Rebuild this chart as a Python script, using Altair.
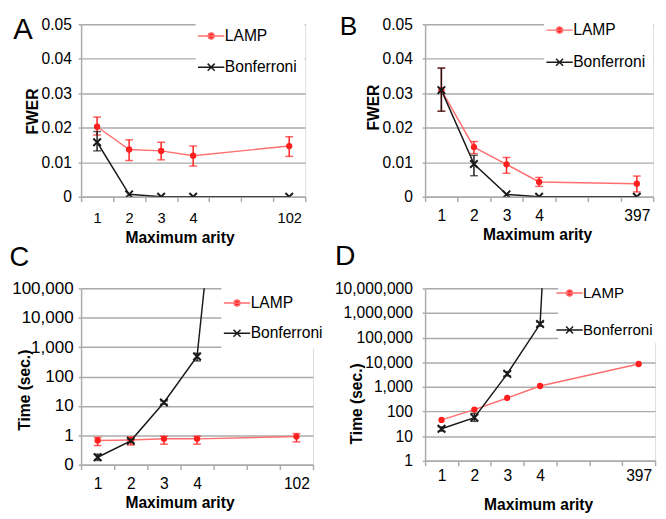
import altair as alt
import pandas as pd

FONT = "Liberation Sans"
RED_LINE = "#ff6f6f"
RED = "#ff1f1f"
BLACK = "#1a1a1a"
GRID = "#ababab"

SERIES = ["LAMP", "Bonferroni"]
GAPS = ["gap5", "gap6"]

# symbols (legend: line + marker; plot: marker)
LAMP_SYM = ("M-2.25,0L2.25,0M0.55,0L0.39,0.39L0,0.55L-0.39,0.39L-0.55,0"
            "L-0.39,-0.39L0,-0.55L0.39,-0.39Z")
BONF_SYM = "M-2.25,0L2.25,0M-0.6,-0.6L0.6,0.6M-0.6,0.6L0.6,-0.6"
X_SYM = "M-1,-1L1,1M-1,1L1,-1"

# ---------------- Panel A (FWER, arity up to 102) ----------------
a_arity = ["1", "2", "3", "4", "102"]
a_lamp = [0.0203, 0.0137, 0.0133, 0.0119, 0.0147]
a_lamp_lo = [0.0179, 0.0105, 0.0107, 0.0089, 0.0117]
a_lamp_hi = [0.0231, 0.0165, 0.0158, 0.0147, 0.0174]
a_bonf = [0.0158, 0.0007, 0.0, 0.0, 0.0]
a_bonf_lo = [0.0133, None, None, None, None]
a_bonf_hi = [0.0189, None, None, None, None]

# ---------------- Panel B (FWER, arity up to 397) ----------------
b_arity = ["1", "2", "3", "4", "397"]
b_lamp = [0.0309, 0.0144, 0.0094, 0.0043, 0.0038]
b_lamp_lo = [0.0248, 0.0125, 0.0068, 0.0030, 0.0014]
b_lamp_hi = [0.0373, 0.0160, 0.0114, 0.0056, 0.0060]
b_bonf = [0.0309, 0.0095, 0.0007, 0.0, 0.0]
b_bonf_lo = [0.0248, 0.0061, None, None, None]
b_bonf_hi = [0.0373, 0.0120, None, None, None]

# ---------------- Panel C (time, arity up to 102) ----------------
c_arity = ["1", "2", "3", "4", "102"]
c_lamp = [0.67, 0.70, 0.76, 0.76, 0.91]
c_lamp_lo = [0.45, 0.47, 0.50, 0.50, 0.60]
c_lamp_hi = [0.85, 0.88, 0.93, 0.93, 1.15]
c_bonf = [0.18, 0.65, 13.1, 480, 1e35]
c_bonf_lo = [0.14, 0.58, 11.5, 340, None]
c_bonf_hi = [0.23, 0.73, 14.8, 620, None]

# ---------------- Panel D (time, arity up to 397) ----------------
d_arity = ["1", "2", "3", "4", "397"]
d_lamp = [46, 120, 357, 1090, 8500]
d_lamp_lo = [None, None, None, None, None]
d_lamp_hi = [None, None, None, None, None]
d_bonf = [20, 57, 3400, 355000, 1e80]
d_bonf_lo = [16, 40, 2800, 290000, None]
d_bonf_hi = [24, 84, 4200, 420000, None]

fwer_ticks = [0, 0.01, 0.02, 0.03, 0.04, 0.05]
c_ticks = [0.1, 1, 10, 100, 1000, 10000, 100000]
d_ticks = [1, 10, 100, 1000, 10000, 100000, 1000000, 10000000]


def make_panel(letter, arity, lamp, lamp_lo, lamp_hi, bonf, bonf_lo, bonf_hi, p):
    domain = arity[:4] + GAPS + arity[4:]
    rows = []
    for s, vals, los, his in ((SERIES[0], lamp, lamp_lo, lamp_hi),
                              (SERIES[1], bonf, bonf_lo, bonf_hi)):
        for a, v, lo, hi in zip(arity, vals, los, his):
            rows.append({"arity": a, "slot": domain.index(a), "series": s,
                         "value": v, "lo": lo, "hi": hi})
    df = pd.DataFrame(rows)

    xaxis = alt.Axis(
        labelExpr="(datum.label == 'gap5' || datum.label == 'gap6') ? '' : datum.label",
        tickBand="extent", ticks=True, tickSize=5, tickColor=GRID, tickWidth=1.5,
        domainColor=GRID, domainWidth=1.5, grid=False, labelAngle=0,
        labelFontSize=p["xlab"], labelPadding=p["xlabpad"], labelBaseline="middle",
        labelColor="black", labelFont=FONT,
        title="Maximum arity", titleFontSize=16, titleFontWeight="bold",
        titleFont=FONT, titleColor="black", titleX=p["xtx"], titleY=p["xty"],
        titleAlign="center", titleBaseline="middle",
    )
    # top axis carrying only the panel letter
    letter_axis = alt.Axis(
        orient="top", domain=False, ticks=False, labels=False, grid=False,
        title=letter, titleFontSize=p["tfs"], titleFontWeight="normal", titleFont=FONT,
        titleColor="black", titleX=p["tdx"], titleY=p["tdy"], titleAngle=0,
        titleAlign="left", titleBaseline="alphabetic",
    )
    xscale = alt.Scale(type="band", domain=domain, paddingInner=0, paddingOuter=0)
    x = alt.X("arity:N", scale=xscale, axis=xaxis)
    xn = alt.X("arity:N", scale=xscale, axis=None)
    xt = alt.X("arity:N", scale=xscale, axis=letter_axis)

    yaxis = alt.Axis(
        values=p["ticks"], labelExpr=p["labexpr"], grid=True, gridColor=GRID,
        gridWidth=1.5, domainColor=GRID, domainWidth=1.5, tickColor=GRID,
        tickWidth=1.5, tickSize=3, labelFontSize=p["ylab"], labelPadding=p["ylabpad"],
        labelColor="black", labelFont=FONT,
        title=p["ytitle"], titleFontSize=16, titleFontWeight="bold", titleFont=FONT,
        titleColor="black", titleX=p["ytx"], titleY=p["yty"], titleAngle=270,
        titleAlign="center", titleBaseline="middle",
    )
    yscale = p["yscale"]
    y = alt.Y("value:Q", scale=yscale, axis=yaxis)
    ylo = alt.Y("lo:Q", scale=yscale, axis=yaxis)

    base = alt.Chart(df)
    lam = base.transform_filter(alt.datum.series == "LAMP")
    bon = base.transform_filter(alt.datum.series == "Bonferroni")

    line_l = lam.mark_line(color=RED_LINE, strokeWidth=1.5, clip=True).encode(
        x=x, y=y, order="slot:Q")
    line_b = bon.mark_line(color=BLACK, strokeWidth=1.5, clip=True).encode(
        x=xn, y=y, order="slot:Q")
    err_l = lam.transform_filter("isValid(datum.lo)").mark_errorbar(
        ticks=True, color=RED, thickness=1.5, size=8).encode(x=xn, y=ylo, y2="hi:Q")
    err_b = bon.transform_filter("isValid(datum.lo)").mark_errorbar(
        ticks=True, color=BLACK, thickness=1.5, size=8).encode(x=xn, y=ylo, y2="hi:Q")
    pts_l = lam.mark_point(filled=True, shape="circle", size=42, color=RED,
                           opacity=1, clip=True).encode(x=xn, y=y)
    pts_b = bon.mark_point(filled=False, shape=X_SYM, size=60, color=BLACK,
                           strokeWidth=2, opacity=1, clip=True).encode(x=xn, y=y)

    leg = alt.Legend(
        title=None, orient="none", legendX=p["lx"], legendY=p["ly"],
        fillColor="white", padding=p["lpad"], labelFontSize=p["lfs"], labelFont=FONT,
        labelColor="black", labelOffset=6, rowPadding=p["rowpad"],
        symbolSize=144, symbolStrokeWidth=1.5,
    )
    leg_layer = base.transform_filter("false").mark_point(opacity=1, size=144).encode(
        x=xt,
        shape=alt.Shape("series:N", scale=alt.Scale(domain=SERIES, range=[LAMP_SYM, BONF_SYM]), legend=leg),
        fill=alt.Fill("series:N", scale=alt.Scale(domain=SERIES, range=[RED, BLACK]), legend=leg),
        stroke=alt.Stroke("series:N", scale=alt.Scale(domain=SERIES, range=[RED_LINE, BLACK]), legend=leg),
    )

    return alt.layer(line_l, line_b, err_l, pts_l, err_b, pts_b, leg_layer).resolve_axis(
        x="independent").properties(width=p["w"], height=p["h"])


fwer_lab = "datum.value == 0 ? '0' : format(datum.value, '.2f')"
time_lab = "format(datum.value, ',.0f')"

pA = make_panel("A", a_arity, a_lamp, a_lamp_lo, a_lamp_hi, a_bonf, a_bonf_lo, a_bonf_hi, dict(
    w=230, h=177, ticks=fwer_ticks, labexpr=fwer_lab, ytitle="FWER",
    yscale=alt.Scale(domain=[0, 0.05], nice=False, zero=False),
    ylab=16, ylabpad=7, ytx=-50, yty=89, xlab=15, xlabpad=16, xtx=101, xty=42,
    lx=117.5, ly=-4, lpad=8, lfs=16, rowpad=16, tfs=30, tdx=-70, tdy=15))
pB = make_panel("B", b_arity, b_lamp, b_lamp_lo, b_lamp_hi, b_bonf, b_bonf_lo, b_bonf_hi, dict(
    w=234, h=177, ticks=fwer_ticks, labexpr=fwer_lab, ytitle="FWER",
    yscale=alt.Scale(domain=[0, 0.05], nice=False, zero=False),
    ylab=16, ylabpad=10, ytx=-53, yty=85, xlab=16, xlabpad=14, xtx=115, xty=39,
    lx=122, ly=-10, lpad=8, lfs=16, rowpad=17, tfs=27, tdx=-88, tdy=11))
pC = make_panel("C", c_arity, c_lamp, c_lamp_lo, c_lamp_hi, c_bonf, c_bonf_lo, c_bonf_hi, dict(
    w=238, h=181, ticks=c_ticks, labexpr=time_lab, ytitle="Time  (sec.)",
    yscale=alt.Scale(type="log", domain=[0.1, 100000], nice=False),
    ylab=17.5, ylabpad=5, ytx=-58, yty=104, xlab=16, xlabpad=14, xtx=101, xty=39,
    lx=144, ly=-1, lpad=8, lfs=16, rowpad=15, tfs=28, tdx=-74, tdy=-23))
pD = make_panel("D", d_arity, d_lamp, d_lamp_lo, d_lamp_hi, d_bonf, d_bonf_lo, d_bonf_hi, dict(
    w=236, h=177, ticks=d_ticks, labexpr=time_lab, ytitle="Time  (sec.)",
    yscale=alt.Scale(type="log", domain=[1, 10000000], nice=False),
    ylab=16, ylabpad=10, ytx=-70, yty=118, xlab=16, xlabpad=10, xtx=116, xty=45,
    lx=136.5, ly=-7, lpad=4, lfs=15.5, rowpad=21, tfs=29, tdx=-93, tdy=-24))

chart = alt.concat(
    pA, pB, pC, pD, columns=2, spacing={"row": 90, "column": 115},
    bounds="flush", align="all",
).resolve_scale(
    shape="independent", fill="independent", stroke="independent",
).resolve_legend(
    shape="independent", fill="independent", stroke="independent",
).properties(
    padding={"left": 0, "top": -2, "right": 0, "bottom": 0},
).configure_view(stroke=None).configure(font=FONT)

chart.save("out.html", embed_options={"renderer": "svg", "actions": False})
